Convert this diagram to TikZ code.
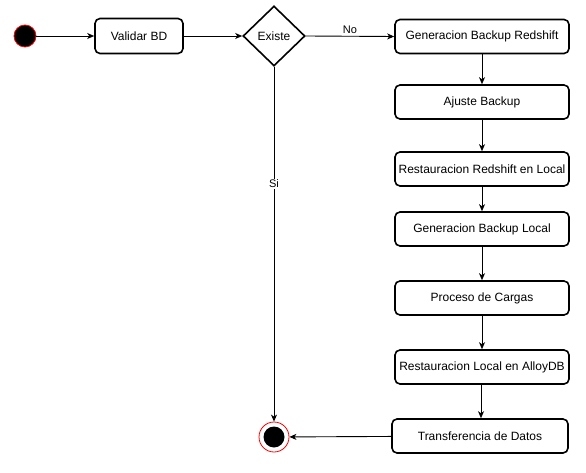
\documentclass[tikz,border=0pt]{standalone}
\usepackage{fontspec}
\setmainfont{Liberation Sans}
\usetikzlibrary{shapes.geometric,arrows.meta}
\begin{document}
\begin{tikzpicture}[x=1pt,y=-1pt,
  box/.style={draw,line width=1.6pt,rounded corners=5pt,minimum width=174pt,minimum height=34pt,inner sep=0pt,font=\fontsize{12}{14}\selectfont},
  edge/.style={line width=0.9pt,-{Stealth[length=7pt,width=6pt,inset=2pt]}},
  lbl/.style={font=\fontsize{11}{13}\selectfont,fill=white,inner sep=1pt}]
\useasboundingbox (0,0) rectangle (586,473);
\node[circle,draw=red,fill=black,line width=0.8pt,minimum size=22pt,inner sep=0pt] (start) at (25,36) {};
\node[box,minimum width=88pt,minimum height=35pt] (val) at (139,36) {Validar BD};
\node[diamond,draw,line width=1.6pt,minimum width=62pt,minimum height=60pt,inner sep=0pt,font=\fontsize{12}{14}\selectfont] (ex) at (274,36) {Existe};
\node[box] (gbr) at (482,36.5) {Generacion Backup Redshift};
\node[box] (aj) at (482,102) {Ajuste Backup};
\node[box] (rrl) at (482,169) {Restauracion Redshift en Local};
\node[box] (gbl) at (482,229) {Generacion Backup Local};
\node[box] (pc) at (482,298) {Proceso de Cargas};
\node[box] (rla) at (482,367) {Restauracion Local en AlloyDB};
\node[box,minimum width=176pt] (td) at (480,436) {Transferencia de Datos};
\node[circle,draw=red,fill=white,line width=0.8pt,minimum size=30pt,inner sep=0pt] (end) at (274,437) {};
\node[circle,fill=black,minimum size=21pt,inner sep=0pt] (endin) at (274,437) {};
\draw[edge] (start) -- (val);
\draw[edge] (val) -- (ex);
\draw[edge] (ex.east) -- node[lbl,above=1pt,fill=none] {No} (gbr.west);
\draw[edge] (ex.south) -- node[lbl,pos=0.33] {Si} (end.north);
\draw[edge] (gbr) -- (aj);
\draw[edge] (aj) -- (rrl);
\draw[edge] (rrl) -- (gbl);
\draw[edge] (gbl) -- (pc);
\draw[edge] (pc) -- (rla);
\draw[edge] ([xshift=-1pt]rla.south) -- ([xshift=-1pt]rla.south |- td.north);
\draw[edge] (td) -- (end);
\end{tikzpicture}
\end{document}
